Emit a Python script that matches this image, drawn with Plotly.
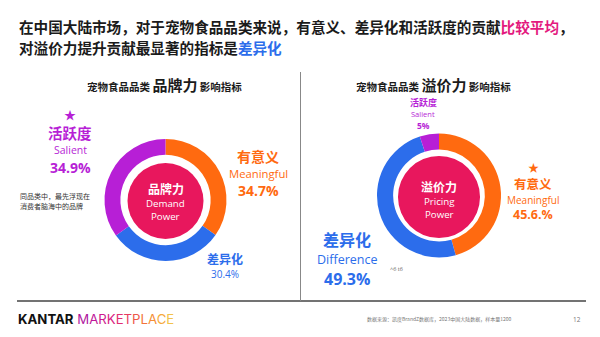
import plotly.graph_objects as go

W, H = 600, 337

categories_zh = ["有意义", "差异化", "活跃度"]
categories_en = ["Meaningful", "Difference", "Salient"]
demand_power = [34.7, 30.4, 34.9]
pricing_power = [45.6, 49.3, 5.0]
demand_labels = ["34.7%", "30.4%", "34.9%"]
pricing_labels = ["45.6.%", "49.3%", "5%"]
seg_colors = ["#FF6A10", "#2C6DEB", "#B71FD6"]
PINK = "#E8175D"
CJK = "Noto Sans CJK SC"
LAT = "Open Sans"


def px(x):
    return x / W


def py(y):
    return 1 - y / H


def dom(cx, cy, r):
    return dict(x=[px(cx - r), px(cx + r)], y=[py(cy + r), py(cy - r)])


fig = go.Figure()

# donut rings
for vals, (cx, cy, r) in [(demand_power, (165.5, 200, 61)), (pricing_power, (439, 195.5, 62))]:
    fig.add_trace(go.Pie(
        values=vals, labels=categories_en, sort=False, direction="clockwise", rotation=0,
        hole=0.74, marker=dict(colors=seg_colors, line=dict(width=0)),
        textinfo="none", hoverinfo="label+percent", domain=dom(cx, cy, r), showlegend=False,
    ))

# inner pink discs
for (cx, cy, r) in [(165.5, 201, 38), (439, 197, 41)]:
    fig.add_trace(go.Pie(
        values=[1], labels=["core"], sort=False, hole=0, marker=dict(colors=[PINK], line=dict(width=0)),
        textinfo="none", hoverinfo="skip", domain=dom(cx, cy, r), showlegend=False,
    ))

ann = []


def T(x, y, text, size, color="#222", family=LAT, xanchor="center"):
    ann.append(dict(x=px(x), y=py(y), xref="paper", yref="paper", text=text, showarrow=False,
                    xanchor=xanchor, yanchor="middle",
                    font=dict(size=size, color=color, family=family)))


def S(text, size):
    return f"<span style='font-size:{size}px'>{text}</span>"


# title
T(17, 26.5, "<b>在中国大陆市场，对于宠物食品品类来说，有意义、差异化和活跃度的贡献"
            "<span style='color:#E3197E'>比较平均</span>，</b>", 14.6, "#1b1b1b", CJK, xanchor="left")
T(17, 47.5, "<b>对溢价力提升贡献最显著的指标是<span style='color:#2C6DEB'>差异化</span></b>",
  14.6, "#1b1b1b", CJK, xanchor="left")

# panel subtitles
T(164, 85, "<b>" + S("宠物食品品类 ", 10.5) + "品牌力" + S(" 影响指标", 10.5) + "</b>", 15, "#1b1b1b", CJK)
T(433, 85, "<b>" + S("宠物食品品类 ", 10.5) + "溢价力" + S(" 影响指标", 10.5) + "</b>", 15, "#1b1b1b", CJK)

# centers
T(165.5, 188.5, "<b>品牌力</b>", 12, "white", CJK)
T(165.5, 203.6, "Demand", 9.7, "white")
T(165.5, 216.8, "Power", 9.7, "white")
T(439, 186.5, "<b>溢价力</b>", 12, "white", CJK)
T(439, 201.6, "Pricing", 9.7, "white")
T(439, 214.8, "Power", 9.7, "white")

# left panel labels
T(70, 114, "★", 12, seg_colors[2], CJK)
T(70, 132.5, "<b>" + categories_zh[2] + "</b>", 14.5, seg_colors[2], CJK)
T(70, 150.3, categories_en[2], 10.5, seg_colors[2])
T(70, 167.2, "<b>" + demand_labels[2] + "</b>", 14, seg_colors[2])
T(18, 195.8, "同品类中，最先浮现在", 7, "#333", CJK, xanchor="left")
T(18, 206.2, "消费者脑海中的品牌", 7, "#333", CJK, xanchor="left")
T(258, 155.5, "<b>" + categories_zh[0] + "</b>", 14, seg_colors[0], CJK)
T(258, 173.4, categories_en[0], 11.3, seg_colors[0])
T(258, 190.6, "<b>" + demand_labels[0] + "</b>", 14, seg_colors[0])
T(225, 258, "<b>" + categories_zh[1] + "</b>", 12, seg_colors[1], CJK)
T(225, 274.2, demand_labels[1], 10, seg_colors[1])

# right panel labels
T(423, 102.5, "<b>" + categories_zh[2] + "</b>", 9, seg_colors[2], CJK)
T(423, 114.1, categories_en[2], 7.5, seg_colors[2])
T(423, 125.2, "<b>" + pricing_labels[2] + "</b>", 8.5, seg_colors[2])
T(533, 167, "★", 11, seg_colors[0], CJK)
T(533, 183.8, "<b>" + categories_zh[0] + "</b>", 12.5, seg_colors[0], CJK)
T(533, 199.6, categories_en[0], 10, seg_colors[0])
T(533, 214.9, "<b>" + pricing_labels[0] + "</b>", 12.5, seg_colors[0])
T(347, 239.2, "<b>" + categories_zh[1] + "</b>", 16, seg_colors[1], CJK)
T(347, 259.3, categories_en[1], 12.5, seg_colors[1])
T(347, 278.7, "<b>" + pricing_labels[1] + "</b>", 16, seg_colors[1])
T(396, 269, "^6 t6", 5.5, "#666")

# footer
grad = ["#B0179F", "#BF1799", "#CD1A8F", "#D92283", "#E22D72", "#E83D5F",
        "#EE5848", "#F2733C", "#F58E37", "#F6AA3C", "#F2C24A"]
mp = "".join(f"<span style='color:{c}'>{ch}</span>" for ch, c in zip("MARKETPLACE", grad))
T(16, 319, "<b>KANTAR</b> " + mp, 13.2, "#111", "Inter", xanchor="left")
T(365, 319, "数据来源：凯度BrandZ数据库，2023中国大陆数据，样本量1200", 5, "#777", CJK, xanchor="left")
T(577, 319, "12", 6.5, "#777")

shapes = [
    dict(type="line", xref="paper", yref="paper", x0=px(17), x1=px(586), y0=py(301), y1=py(301),
         line=dict(color="#444", width=1.5)),
    dict(type="line", xref="paper", yref="paper", x0=px(300.5), x1=px(300.5), y0=py(72), y1=py(301),
         line=dict(color="#888", width=1)),
]

fig.update_layout(width=W, height=H, margin=dict(l=0, r=0, t=0, b=0),
                  paper_bgcolor="white", plot_bgcolor="white",
                  annotations=ann, shapes=shapes, showlegend=False)

fig.write_html("out.html")
